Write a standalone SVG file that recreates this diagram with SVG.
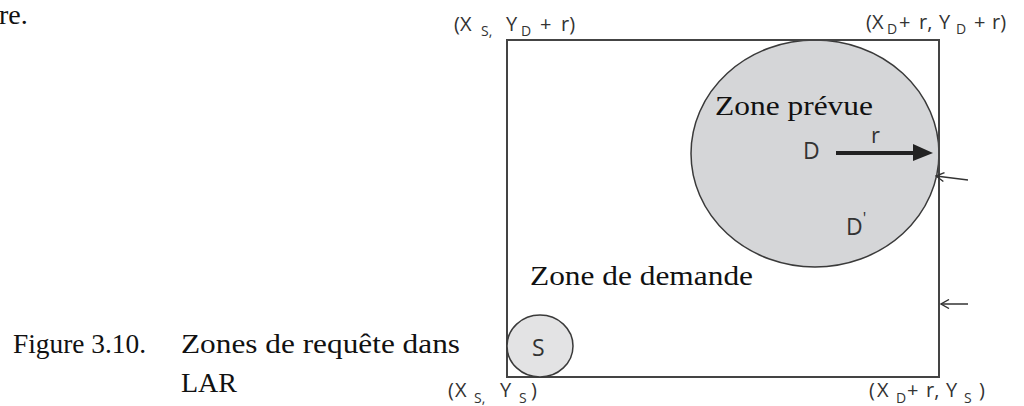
<svg xmlns="http://www.w3.org/2000/svg" width="1024" height="406" viewBox="0 0 1024 406">
  <style>
    .serif { font-family: "Liberation Serif", "Times New Roman", serif; font-size: 28px; fill: #111; }
    .sans { font-family: "Open Sans", "Liberation Sans", Arial, sans-serif; fill: #333; }
    .corner { font-size: 20px; }
    .sub { font-size: 14px; }
    .node-lbl { font-size: 23px; }
    .zone { stroke: #3a3a3a; stroke-width: 1.5; }
    .thin { stroke: #333; stroke-width: 1.5; fill: none; }
  </style>
  <defs>
    <marker id="open" viewBox="0 0 10 10" refX="9" refY="5" markerWidth="10" markerHeight="10" markerUnits="userSpaceOnUse" orient="auto">
      <path d="M1,0.5 L9,5 L1,9.5" fill="none" stroke="#333" stroke-width="1.4"/>
    </marker>
  </defs>
  <rect width="1024" height="406" fill="#ffffff"/>

  <text class="serif" x="-1" y="24">re.</text>

  <g id="zone-prevue">
    <ellipse class="zone" cx="815" cy="153.5" rx="124" ry="113.5" fill="#d5d6d8"/>
    <text class="serif" x="715" y="115" textLength="158" lengthAdjust="spacingAndGlyphs">Zone prévue</text>
  </g>

  <g id="zone-demande">
    <rect x="507" y="40" width="432" height="337" fill="none" stroke="#444" stroke-width="2"/>
    <text class="serif" x="530" y="285" textLength="223" lengthAdjust="spacingAndGlyphs">Zone de demande</text>
  </g>

  <g id="node-S">
    <ellipse class="zone" cx="540" cy="346" rx="33" ry="31" fill="#e3e3e4"/>
    <text class="sans node-lbl" x="532" y="356">S</text>
  </g>

  <g id="node-D">
    <text class="sans node-lbl" x="803" y="159">D</text>
  </g>

  <g id="node-Dprime">
    <text class="sans node-lbl" x="846" y="235">D<tspan dy="-11" font-size="16">'</tspan></text>
  </g>

  <g id="connectors">
    <line x1="836" y1="153" x2="916" y2="153" stroke="#222" stroke-width="4"/>
    <polygon points="913,144 933,153 913,161" fill="#222"/>
    <text class="sans" x="871" y="143" font-size="22">r</text>
    <line class="thin" x1="968" y1="180" x2="936" y2="176" marker-end="url(#open)"/>
    <line class="thin" x1="968" y1="304" x2="941" y2="304" marker-end="url(#open)"/>
  </g>

  <g id="corner-labels" class="sans">
    <text class="corner" y="31"><tspan x="454">(</tspan><tspan x="460">X</tspan><tspan class="sub" x="481" y="36">S,</tspan><tspan x="506" y="31">Y</tspan><tspan class="sub" x="521" y="36">D</tspan><tspan x="540" y="31">+</tspan><tspan x="561">r)</tspan></text>
    <text class="corner" y="29"><tspan x="866">(</tspan><tspan x="872">X</tspan><tspan class="sub" x="887" y="34">D</tspan><tspan x="899" y="29">+</tspan><tspan x="919">r,</tspan><tspan x="939">Y</tspan><tspan class="sub" x="956" y="34">D</tspan><tspan x="974" y="29">+</tspan><tspan x="992">r)</tspan></text>
    <text class="corner" y="397"><tspan x="448">(</tspan><tspan x="455">X</tspan><tspan class="sub" x="474" y="403">S,</tspan><tspan x="500" y="397">Y</tspan><tspan class="sub" x="519" y="403">S</tspan><tspan x="531" y="397">)</tspan></text>
    <text class="corner" y="397"><tspan x="869">(</tspan><tspan x="877">X</tspan><tspan class="sub" x="896" y="403">D</tspan><tspan x="907" y="397">+</tspan><tspan x="926">r,</tspan><tspan x="946">Y</tspan><tspan class="sub" x="964" y="403">S</tspan><tspan x="979" y="397">)</tspan></text>
  </g>

  <g id="caption">
    <text class="serif" x="13" y="353" textLength="133" lengthAdjust="spacingAndGlyphs">Figure 3.10.</text>
    <text class="serif" x="181" y="353" textLength="279" lengthAdjust="spacingAndGlyphs">Zones de requête dans</text>
    <text class="serif" x="181" y="392">LAR</text>
  </g>
</svg>
